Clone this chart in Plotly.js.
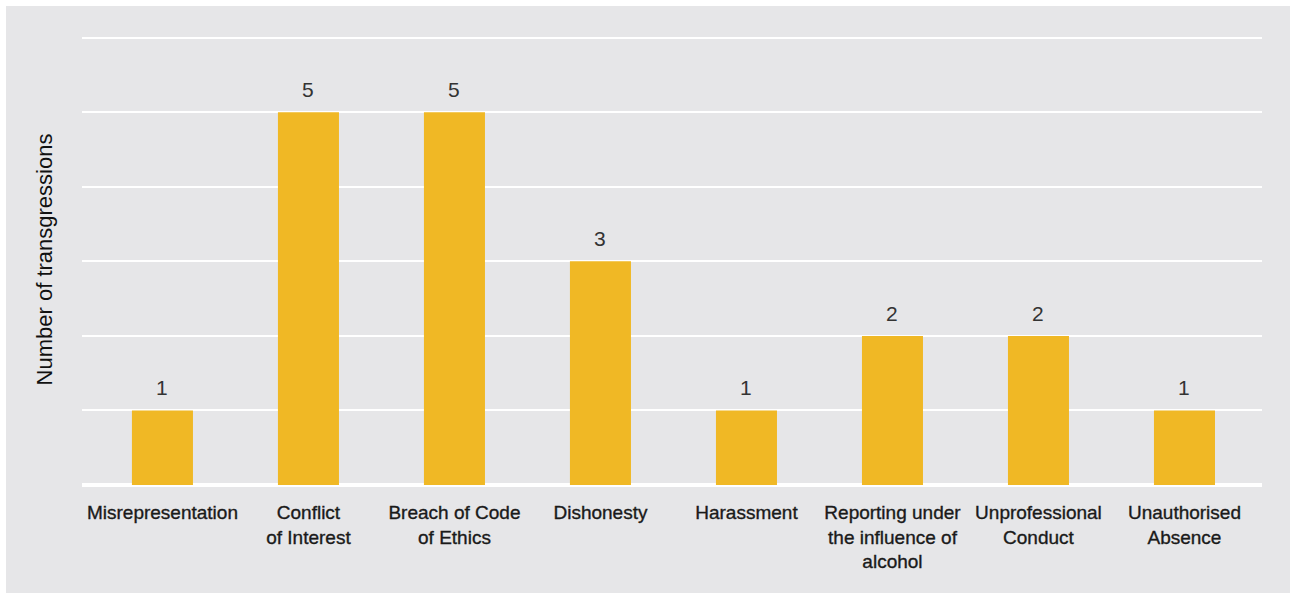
<!DOCTYPE html>
<html>
<head>
<meta charset="utf-8">
<script src="https://cdn.plot.ly/plotly-3.0.1.min.js"></script>
<style>
  html, body { margin: 0; padding: 0; background: #ffffff; }
  #chart { position: absolute; left: 6px; top: 6px; width: 1284px; height: 587px; }
  .xtick text { stroke: #1a1a1a; stroke-width: 0.35px; }
</style>
</head>
<body>
<div id="chart"></div>
<script>
const categories = [
  "Misrepresentation", "Conflict of Interest", "Breach of Code of Ethics", "Dishonesty",
  "Harassment", "Reporting under the influence of alcohol", "Unprofessional Conduct", "Unauthorised Absence"
];
const tickLabels = [
  "Misrepresentation", "Conflict<br>of Interest", "Breach of Code<br>of Ethics", "Dishonesty",
  "Harassment", "Reporting under<br>the influence of<br>alcohol", "Unprofessional<br>Conduct", "Unauthorised<br>Absence"
];
const transgressions = [1, 5, 5, 3, 1, 2, 2, 1];
const yTitle = "Number of transgressions";

const barColor = "#f0b825";
const bgColor = "#e6e6e8";

const trace = {
  type: "bar",
  x: categories,
  y: transgressions,
  width: 0.418,
  marker: { color: barColor, line: { width: 0 } },
  hoverinfo: "x+y"
};

const annotations = categories.map((c, i) => ({
  x: c, y: transgressions[i], xref: "x", yref: "y",
  text: String(transgressions[i]),
  showarrow: false, yanchor: "bottom", yshift: 9,
  font: { family: "Liberation Sans, Arial, sans-serif", size: 21, color: "#333333" }
}));

const layout = {
  width: 1284, height: 587,
  paper_bgcolor: bgColor, plot_bgcolor: bgColor,
  margin: { l: 76, r: 28, t: 28, b: 108, pad: 0 },
  showlegend: false,
  bargap: 0.58,
  xaxis: {
    type: "category",
    categoryorder: "array", categoryarray: categories,
    tickvals: categories, ticktext: tickLabels,
    range: [-0.551, 7.531],
    showgrid: false, zeroline: false, showline: false,
    ticks: "", ticklabelstandoff: 14,
    tickfont: { family: "Liberation Sans, Arial, sans-serif", size: 19, color: "#1a1a1a" },
    fixedrange: true
  },
  yaxis: {
    range: [0, 6.05], dtick: 1, tick0: 0,
    showticklabels: false, ticks: "",
    showgrid: true, gridcolor: "#ffffff", gridwidth: 2,
    zeroline: true, zerolinecolor: "#ffffff", zerolinewidth: 4,
    showline: false,
    title: { text: yTitle, standoff: 22, font: { family: "Liberation Sans, Arial, sans-serif", size: 22, color: "#111111" } },
    fixedrange: true
  },
  annotations: annotations
};

Plotly.newPlot("chart", [trace], layout, { displayModeBar: false, staticPlot: true });
</script>
</body>
</html>
